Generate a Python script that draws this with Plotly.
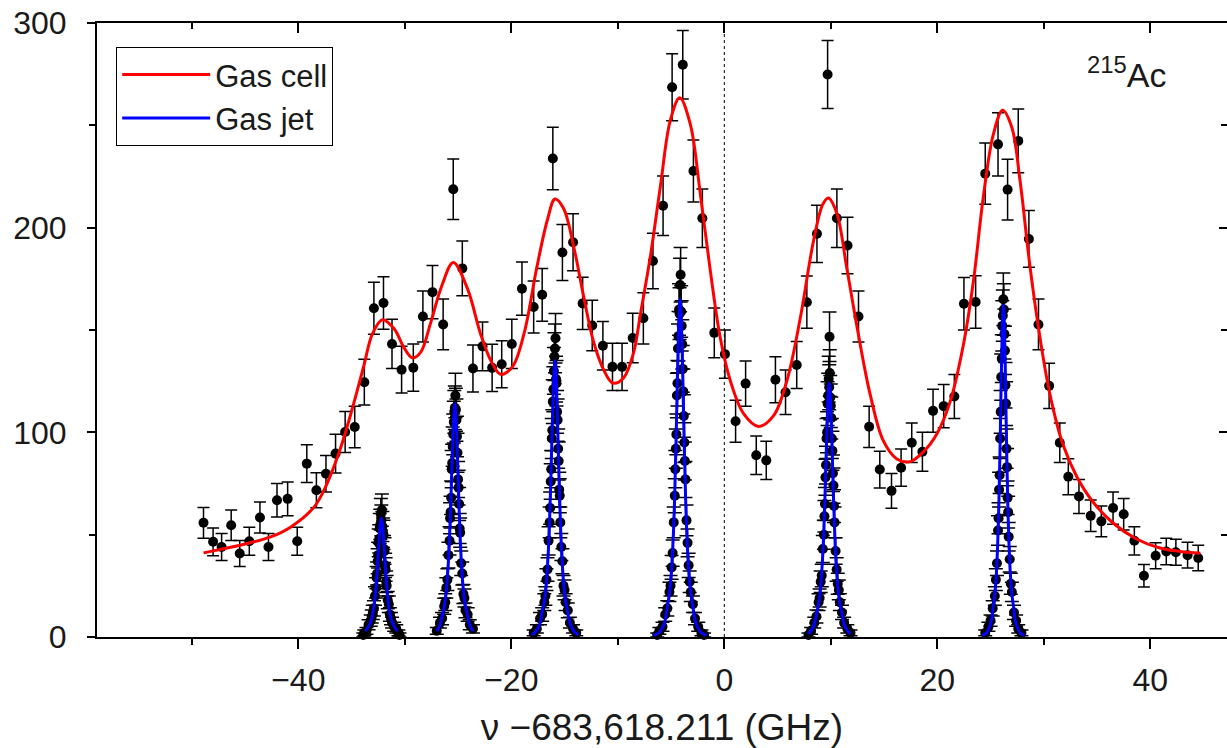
import plotly.graph_objects as go

# ---------------- gas cell scan (counts vs. detuning) ----------------
cell_freq = [
    -48.9, -48.0, -47.2, -46.3, -45.5, -44.6, -43.6, -42.8, -42.0, -41.0,
    -40.1, -39.2, -38.3, -37.4, -36.5, -35.6, -34.7, -33.8, -32.9, -32.0,
    -31.2, -30.3, -29.2, -28.3, -27.4, -26.4, -25.45, -24.6, -23.6, -22.7,
    -21.8, -20.9, -19.95, -19.0, -17.9, -17.1, -16.1, -15.2, -14.2, -13.3,
    -12.4, -11.4, -10.5, -9.6, -8.6, -7.6, -6.7, -5.75, -4.9, -3.9,
    -2.9, -2.06, -0.94, 0.06, 1.06, 2.0, 3.0, 3.94, 4.8, 5.75,
    6.8, 7.75, 8.7, 9.7, 10.57, 11.57, 12.6, 13.6, 14.6, 15.7,
    16.6, 17.6, 18.6, 19.6, 20.6, 21.6, 22.5, 23.6, 24.5, 25.7,
    26.6, 27.6, 28.6, 29.5, 30.5, 31.5, 32.3, 33.3, 34.4, 35.4,
    36.5, 37.5, 38.5, 39.4, 40.5, 41.5, 42.4, 43.5, 44.5,
]
cell_counts = [
    55.8, 46.5, 44.0, 54.6, 40.8, 46.8, 58.4, 44.0, 66.8, 67.5,
    46.8, 84.7, 71.7, 79.8, 89.6, 100.2, 102.6, 124.5, 160.6, 163.2,
    143.2, 130.6, 131.6, 156.6, 168.5, 152.7, 218.8, 180.1, 131.2, 142.0,
    131.5, 133.3, 143.2, 170.2, 161.2, 167.2, 233.8, 187.9, 192.9, 163.0,
    152.2, 142.3, 132.0, 132.0, 146.1, 155.7, 183.7, 210.7, 268.6, 279.6,
    227.7, 204.6, 148.6, 138.2, 105.4, 123.8, 88.8, 86.3, 125.7, 119.6,
    132.9, 163.6, 197.0, 274.8, 204.6, 191.3, 156.6, 102.7, 81.8, 71.4,
    82.7, 94.9, 90.5, 110.5, 112.8, 117.5, 162.8, 163.7, 226.4, 240.7,
    218.6, 242.4, 194.5, 152.7, 122.7, 94.9, 78.3, 68.7, 59.2, 56.5,
    63.0, 60.0, 47.0, 29.9, 39.7, 41.8, 41.4, 40.0, 38.6,
]
cell_err = [
    7.5, 6.8, 6.6, 7.4, 6.4, 6.8, 7.6, 6.6, 8.2, 8.2,
    6.8, 9.2, 8.5, 8.9, 9.5, 10.0, 10.1, 11.2, 12.7, 12.8,
    12.0, 11.4, 11.5, 12.5, 13.0, 12.4, 14.8, 13.4, 11.5, 11.9,
    11.5, 11.5, 12.0, 13.0, 12.7, 12.9, 15.3, 13.7, 13.9, 12.8,
    12.3, 11.9, 11.5, 11.5, 12.1, 12.5, 13.6, 14.5, 16.4, 16.7,
    15.1, 14.3, 12.2, 11.8, 10.3, 11.1, 9.4, 9.3, 11.2, 10.9,
    11.5, 12.8, 14.0, 16.6, 14.3, 13.8, 12.5, 10.1, 9.0, 8.5,
    9.1, 9.7, 9.5, 10.5, 10.6, 10.8, 12.8, 12.8, 15.0, 15.5,
    14.8, 15.6, 13.9, 12.4, 11.1, 9.7, 8.8, 8.3, 7.7, 7.5,
    7.9, 7.7, 6.9, 5.5, 6.3, 6.5, 6.4, 6.3, 6.2,
]

# fitted gas cell line shape
cell_fit_freq = [
    -48.9, -47.3, -44.8, -42.6, -40.7, -38.5, -37.3, -36.0, -34.8, -33.8,
    -33.05, -32.1, -31.0, -30.1, -29.3, -28.5, -27.6, -26.5, -25.45, -24.1,
    -22.9, -21.9, -21.0, -19.9, -18.8, -17.6, -16.6, -15.9, -15.1, -14.1,
    -13.2, -12.3, -11.3, -10.45, -9.45, -8.5, -7.9, -6.94, -6.0, -5.07,
    -4.19, -3.19, -2.25, -1.3, -0.38, 0.56, 1.81, 3.2, 4.63, 5.88,
    7.13, 8.38, 9.26, 9.78, 10.57, 11.5, 12.45, 13.7, 14.94, 16.2,
    17.45, 18.7, 19.95, 21.2, 22.45, 23.4, 24.3, 25.26, 26.14, 26.99,
    27.77, 28.7, 29.64, 30.58, 31.8, 33.1, 34.6, 36.5, 38.7, 40.9,
    42.8, 44.7,
]
cell_fit_counts = [
    41.1, 42.8, 45.7, 48.9, 53.8, 63.6, 75.0, 92.8, 114.0, 133.5,
    148.0, 155.0, 150.6, 141.6, 136.4, 139.2, 153.0, 172.0, 183.0, 170.0,
    148.3, 134.8, 128.4, 132.0, 148.3, 180.7, 204.0, 214.0, 209.5, 189.7,
    166.2, 144.7, 130.2, 124.0, 126.7, 139.3, 157.0, 186.0, 220.2, 252.4,
    263.5, 250.5, 216.4, 178.4, 146.2, 125.3, 109.1, 102.9, 108.2, 125.3,
    155.7, 193.6, 211.6, 214.5, 206.9, 180.3, 151.9, 118.4, 95.8, 87.0,
    85.7, 90.5, 99.2, 114.9, 142.8, 174.2, 214.2, 245.6, 257.4, 249.1,
    222.9, 181.1, 146.3, 118.4, 94.0, 78.3, 66.1, 55.7, 47.9, 43.5,
    41.8, 40.9,
]

# ---------------- gas jet scans (six hyperfine components) ----------------
jet_freq = [
    -33.9, -33.8, -33.6, -33.4, -33.2, -33.1, -33.0, -32.9, -32.8, -32.7,
    -32.65, -32.6, -32.55, -32.5, -32.45, -32.4, -32.35, -32.3, -32.25, -32.2,
    -32.15, -32.1, -32.05, -32.0, -31.95, -31.9, -31.85, -31.8, -31.75, -31.7,
    -31.6, -31.5, -31.4, -31.3, -31.2, -31.0, -30.8, -30.6, -30.5,
    -27.0, -26.7, -26.5, -26.3, -26.2, -26.1, -26.0, -25.9, -25.8, -25.75,
    -25.7, -25.65, -25.6, -25.55, -25.5, -25.45, -25.4, -25.35, -25.3, -25.25,
    -25.2, -25.15, -25.1, -25.05, -25.0, -24.95, -24.9, -24.85, -24.8, -24.7,
    -24.6, -24.5, -24.4, -24.3, -24.1, -23.9, -23.6,
    -17.9, -17.6, -17.3, -17.1, -16.9, -16.8, -16.7, -16.6, -16.5, -16.4,
    -16.35, -16.3, -16.25, -16.2, -16.15, -16.1, -16.05, -16.0, -15.95, -15.9,
    -15.85, -15.8, -15.75, -15.7, -15.65, -15.6, -15.55, -15.5, -15.45, -15.4,
    -15.3, -15.2, -15.1, -15.0, -14.9, -14.7, -14.5, -14.2, -13.9,
    -6.3, -6.1, -5.8, -5.55, -5.35, -5.15, -5.05, -4.95, -4.85, -4.75,
    -4.65, -4.6, -4.55, -4.5, -4.45, -4.4, -4.35, -4.3, -4.25, -4.2,
    -4.15, -4.1, -4.05, -4.0, -3.95, -3.9, -3.85, -3.8, -3.75, -3.7,
    -3.65, -3.55, -3.45, -3.35, -3.25, -3.15, -2.95, -2.75, -2.45, -2.15,
    -1.9,
    7.9, 8.15, 8.45, 8.65, 8.85, 8.95, 9.05, 9.15, 9.25, 9.35,
    9.4, 9.45, 9.5, 9.55, 9.6, 9.65, 9.7, 9.75, 9.8, 9.85,
    9.88, 9.9, 9.95, 10.0, 10.05, 10.1, 10.15, 10.2, 10.25, 10.3,
    10.35, 10.45, 10.55, 10.65, 10.75, 10.85, 11.05, 11.25, 11.55, 11.85,
    24.5, 24.8, 25.0, 25.2, 25.4, 25.5, 25.6, 25.7, 25.75, 25.8,
    25.85, 25.9, 25.95, 26.0, 26.05, 26.1, 26.15, 26.2, 26.25, 26.3,
    26.35, 26.4, 26.45, 26.5, 26.55, 26.6, 26.65, 26.7, 26.8, 26.9,
    27.0, 27.2, 27.4, 27.6, 27.9,
]
jet_counts = [
    1, 2, 3, 6, 8, 10, 12, 14, 20, 24,
    29, 31, 37, 40, 46, 48, 53, 55, 60, 57,
    62, 54, 51, 50, 43, 42, 35, 33, 27, 25,
    18, 16, 11, 9, 7, 5, 4, 2, 1,
    3, 7, 9, 15, 17, 24, 28, 40, 47, 58,
    61, 68, 82, 85, 93, 99, 105, 110, 112, 118,
    111, 106, 98, 90, 77, 73, 65, 53, 51, 36,
    31, 21, 19, 13, 11, 6, 4,
    2, 4, 9, 11, 17, 20, 28, 33, 47, 56,
    63, 76, 82, 97, 101, 115, 121, 130, 137, 141,
    146, 126, 124, 110, 106, 92, 86, 72, 69, 56,
    44, 37, 25, 23, 17, 13, 7, 4, 2,
    1, 3, 5, 11, 14, 22, 25, 34, 41, 56,
    69, 82, 92, 99, 118, 124, 141, 147, 160, 158,
    172, 177, 159, 152, 143, 131, 120, 108, 95, 86,
    77, 57, 46, 35, 27, 22, 16, 9, 5, 2,
    1,
    1, 3, 7, 10, 17, 19, 27, 30, 43, 50,
    59, 65, 78, 84, 97, 100, 114, 118, 126, 122,
    146.7, 129, 117, 113, 107, 97, 91, 80, 74, 64,
    56, 42, 33, 26, 23, 17, 12, 7, 4, 2,
    2, 5, 8, 14, 20, 28, 36, 52, 58, 72,
    79, 97, 110, 127, 136, 152, 157, 165, 160, 148,
    140, 123, 114, 92, 83, 68, 61, 49, 38, 26,
    22, 12, 8, 4, 2,
]
jet_err = [
    1.0, 1.4, 1.7, 2.4, 2.8, 3.2, 3.5, 3.7, 4.5, 4.9,
    5.4, 5.6, 6.1, 6.3, 6.8, 6.9, 7.3, 7.4, 7.7, 7.5,
    7.9, 7.3, 7.1, 7.1, 6.6, 6.5, 5.9, 5.7, 5.2, 5.0,
    4.2, 4.0, 3.3, 3.0, 2.6, 2.2, 2.0, 1.4, 1.0,
    1.7, 2.6, 3.0, 3.9, 4.1, 4.9, 5.3, 6.3, 6.9, 7.6,
    7.8, 8.2, 9.1, 9.2, 9.6, 9.9, 10.2, 10.5, 10.6, 10.9,
    10.5, 10.3, 9.9, 9.5, 8.8, 8.5, 8.1, 7.3, 7.1, 6.0,
    5.6, 4.6, 4.4, 3.6, 3.3, 2.4, 2.0,
    1.4, 2.0, 3.0, 3.3, 4.1, 4.5, 5.3, 5.7, 6.9, 7.5,
    7.9, 8.7, 9.1, 9.8, 10.0, 10.7, 11.0, 11.4, 11.7, 11.9,
    12.1, 11.2, 11.1, 10.5, 10.3, 9.6, 9.3, 8.5, 8.3, 7.5,
    6.6, 6.1, 5.0, 4.8, 4.1, 3.6, 2.6, 2.0, 1.4,
    1.0, 1.7, 2.2, 3.3, 3.7, 4.7, 5.0, 5.8, 6.4, 7.5,
    8.3, 9.1, 9.6, 9.9, 10.9, 11.1, 11.9, 12.1, 12.6, 12.6,
    13.1, 13.3, 12.6, 12.3, 12.0, 11.4, 11.0, 10.4, 9.7, 9.3,
    8.8, 7.5, 6.8, 5.9, 5.2, 4.7, 4.0, 3.0, 2.2, 1.4,
    1.0,
    1.0, 1.7, 2.6, 3.2, 4.1, 4.4, 5.2, 5.5, 6.6, 7.1,
    7.7, 8.1, 8.8, 9.2, 9.8, 10.0, 10.7, 10.9, 11.2, 11.0,
    12.1, 11.4, 10.8, 10.6, 10.3, 9.8, 9.5, 8.9, 8.6, 8.0,
    7.5, 6.5, 5.7, 5.1, 4.8, 4.1, 3.5, 2.6, 2.0, 1.4,
    1.4, 2.2, 2.8, 3.7, 4.5, 5.3, 6.0, 7.2, 7.6, 8.5,
    8.9, 9.8, 10.5, 11.3, 11.7, 12.3, 12.5, 12.8, 12.6, 12.2,
    11.8, 11.1, 10.7, 9.6, 9.1, 8.2, 7.8, 7.0, 6.2, 5.1,
    4.7, 3.5, 2.8, 2.0, 1.4,
]

# fitted gas jet line shapes; None separates the six components
jet_fit_freq = [
    -33.7, -33.4, -33.2, -33.0, -32.8, -32.7, -32.6, -32.5, -32.4, -32.3,
    -32.2, -32.1, -32.0, -31.9, -31.8, -31.7, -31.6, -31.4, -31.2, -31.0,
    -30.7, None,
    -27.0, -26.7, -26.5, -26.3, -26.1, -25.9, -25.8, -25.7, -25.6, -25.5,
    -25.4, -25.3, -25.2, -25.1, -25.0, -24.9, -24.8, -24.7, -24.5, -24.3,
    -24.1, -23.9, -23.6, None,
    -18.1, -17.7, -17.3, -17.1, -16.9, -16.7, -16.5, -16.4, -16.3, -16.2,
    -16.1, -16.0, -15.9, -15.8, -15.7, -15.6, -15.5, -15.4, -15.3, -15.1,
    -14.9, -14.7, -14.5, -14.1, -13.7, None,
    -6.65, -6.15, -5.85, -5.55, -5.35, -5.15, -4.95, -4.75, -4.65, -4.55,
    -4.45, -4.35, -4.25, -4.15, -4.05, -3.95, -3.85, -3.75, -3.65, -3.55,
    -3.35, -3.15, -2.95, -2.75, -2.45, -2.15, -1.65, None,
    7.85, 8.15, 8.45, 8.65, 8.85, 9.05, 9.25, 9.35, 9.45, 9.55,
    9.65, 9.75, 9.85, 9.95, 10.05, 10.15, 10.25, 10.35, 10.45, 10.65,
    10.85, 11.05, 11.25, 11.55, 11.85, None,
    24.2, 24.6, 24.84, 25.08, 25.24, 25.4, 25.56, 25.72, 25.8, 25.88,
    25.96, 26.04, 26.12, 26.2, 26.28, 26.36, 26.44, 26.52, 26.6, 26.68,
    26.84, 27.0, 27.16, 27.32, 27.56, 27.8, 28.2,
]
jet_fit_counts = [
    2.9, 5.2, 7.5, 11.6, 19.1, 24.9, 31.9, 40.6, 48.7, 55.1,
    58.0, 55.1, 48.7, 40.6, 31.9, 24.9, 19.1, 11.6, 7.5, 5.2,
    2.9, None,
    2.8, 5.7, 10.3, 14.8, 22.8, 37.6, 49.0, 62.7, 79.8, 95.8,
    108.3, 114.0, 108.3, 95.8, 79.8, 62.7, 49.0, 37.6, 22.8, 14.8,
    10.3, 5.7, 2.8, None,
    1.1, 2.7, 6.8, 12.2, 17.6, 27.0, 44.6, 58.0, 74.3, 94.5,
    113.4, 128.3, 135.0, 128.3, 113.4, 94.5, 74.3, 58.0, 44.6, 27.0,
    17.6, 12.2, 6.8, 2.7, 1.1, None,
    0.8, 2.0, 4.1, 8.3, 14.9, 21.5, 33.0, 54.5, 71.0, 90.8,
    115.5, 138.6, 156.8, 165.0, 156.8, 138.6, 115.5, 90.8, 71.0, 54.5,
    33.0, 21.5, 14.9, 8.3, 4.1, 2.0, 0.8, None,
    1.5, 3.1, 6.2, 11.2, 16.1, 24.8, 40.9, 53.3, 68.2, 86.8,
    104.2, 117.8, 124.0, 117.8, 104.2, 86.8, 68.2, 53.3, 40.9, 24.8,
    16.1, 11.2, 6.2, 3.1, 1.5, None,
    0.8, 1.9, 4.1, 8.1, 14.6, 21.1, 32.4, 53.5, 69.7, 89.1,
    113.4, 136.1, 153.9, 162.0, 153.9, 136.1, 113.4, 89.1, 69.7, 53.5,
    32.4, 21.1, 14.6, 8.1, 4.1, 1.9, 0.8,
]

FONT = "Liberation Sans, Arial, Helvetica, sans-serif"
INK = "#1a1a1a"

fig = go.Figure()

err_style = dict(type="data", color="black", thickness=1.5, width=6)

fig.add_trace(go.Scatter(
    x=cell_freq, y=cell_counts, mode="markers",
    marker=dict(color="black", size=10),
    error_y=dict(array=cell_err, **err_style),
    showlegend=False, cliponaxis=False,
))
fig.add_trace(go.Scatter(
    x=jet_freq, y=jet_counts, mode="markers",
    marker=dict(color="black", size=10),
    error_y=dict(array=jet_err, type="data", color="black",
                 thickness=1.5, width=7),
    showlegend=False, cliponaxis=False,
))
fig.add_trace(go.Scatter(
    x=cell_fit_freq, y=cell_fit_counts, mode="lines", name="Gas cell",
    line=dict(color="#ff0000", width=3, shape="spline", smoothing=1.0),
))
fig.add_trace(go.Scatter(
    x=jet_fit_freq, y=jet_fit_counts, mode="lines", name="Gas jet",
    line=dict(color="#0000ff", width=3, shape="spline", smoothing=1.0),
    connectgaps=False,
))
# helper trace so the mirrored top/right axes get drawn
fig.add_trace(go.Scatter(x=[None], y=[None], xaxis="x2", yaxis="y2",
                         showlegend=False, hoverinfo="skip"))

# dashed marker at zero detuning
fig.add_shape(type="line", xref="x", yref="paper", x0=0, x1=0, y0=0, y1=1,
              line=dict(color="black", width=1, dash="3px,3px"), layer="below")

axis_common = dict(showgrid=False, zeroline=False, showline=True,
                   linecolor="black", linewidth=2, tickcolor="black",
                   tickwidth=2)

fig.update_layout(
    width=1227, height=748,
    margin=dict(l=97, r=0, t=23, b=111),
    plot_bgcolor="white", paper_bgcolor="white",
    font=dict(family=FONT, color=INK),
    xaxis=dict(
        range=[-58.9, 47.2], tick0=0, dtick=20, ticks="outside", ticklen=10,
        minor=dict(dtick=10, tick0=0, ticks="outside", ticklen=6,
                   tickcolor="black", tickwidth=2),
        tickfont=dict(size=32, family=FONT, color=INK),
        ticklabelstandoff=4,
        title=dict(text="ν −683,618.211 (GHz)", standoff=17,
                   font=dict(size=37, family=FONT, color=INK)),
        **axis_common,
    ),
    xaxis2=dict(
        overlaying="x", side="top", matches="x", tick0=0, dtick=20,
        ticks="inside", ticklen=10, showticklabels=False,
        minor=dict(dtick=10, tick0=0, ticks="inside", ticklen=6,
                   tickcolor="black", tickwidth=2),
        **axis_common,
    ),
    yaxis=dict(
        range=[0, 300], tick0=0, dtick=100, ticks="outside", ticklen=8,
        minor=dict(dtick=50, tick0=0, ticks="outside", ticklen=6,
                   tickcolor="black", tickwidth=2),
        tickfont=dict(size=32, family=FONT, color=INK),
        ticklabelstandoff=14,
        **axis_common,
    ),
    yaxis2=dict(
        overlaying="y", side="right", matches="y", tick0=0, dtick=100,
        ticks="inside", ticklen=8, showticklabels=False,
        minor=dict(dtick=50, tick0=0, ticks="inside", ticklen=6,
                   tickcolor="black", tickwidth=2),
        **axis_common,
    ),
    legend=dict(
        x=0.017, y=0.961, xanchor="left", yanchor="top",
        bgcolor="white", bordercolor="black", borderwidth=1,
        font=dict(size=31, family=FONT, color=INK),
        itemwidth=88, tracegroupgap=0,
    ),
    annotations=[dict(
        text="<sup>215</sup>Ac", xref="paper", yref="paper",
        x=0.911, y=0.92, xanchor="center", yanchor="middle",
        showarrow=False, font=dict(size=34, family=FONT, color=INK),
    )],
)

fig.write_html("out.html")
